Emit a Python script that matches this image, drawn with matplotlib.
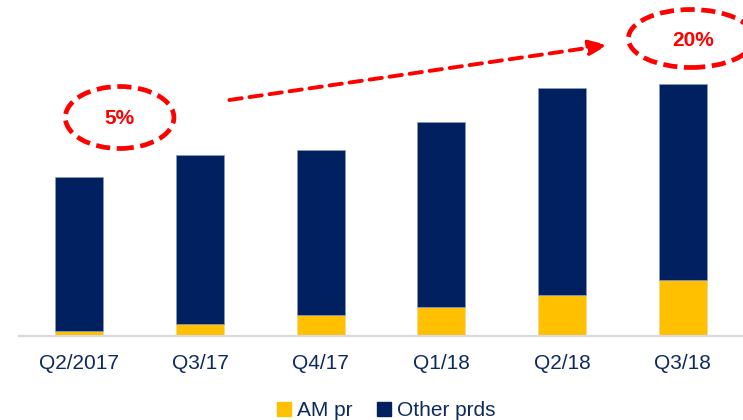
import matplotlib.pyplot as plt
from matplotlib.patches import Ellipse, Patch
import numpy as np

plt.rcParams['font.family'] = ['Liberation Sans', 'DejaVu Sans']

# Data
quarters = ['Q2/2017', 'Q3/17', 'Q4/17', 'Q1/18', 'Q2/18', 'Q3/18']
am_pr = np.array([5.3, 11.7, 21.0, 28.7, 40.7, 56.0])
other_prds = np.array([153.4, 169.0, 165.3, 185.3, 207.3, 196.3])
share_labels = ['5%', '20%']

navy = '#002060'
yellow = '#FFC000'
text_col = '#0d2a5e'
red = '#FF0000'

x = np.arange(len(quarters))

fig = plt.figure(figsize=(7.43, 4.20), dpi=100)
ax = fig.add_axes([19 / 743, 84 / 420, 1 - 19 / 743, 336 / 420])

ax.bar(x, am_pr, width=0.4, color=yellow, edgecolor='#e8d9a0', linewidth=0.4)
ax.bar(x, other_prds, width=0.4, bottom=am_pr, color=navy, edgecolor='#8a9cc0', linewidth=0.5)

ax.set_xlim(-0.5, 5.5)
ax.set_ylim(0, 336)
ax.set_yticks([])
ax.set_xticks(x)
ax.set_xticklabels(quarters, fontsize=15, color=text_col)
ax.tick_params(axis='x', length=0, pad=13)
for s in ['top', 'left', 'right']:
    ax.spines[s].set_visible(False)
ax.spines['bottom'].set_color('#d9d9de')
ax.spines['bottom'].set_linewidth(1.6)

# red dashed ellipses with share labels
e1 = Ellipse((0.334, 218.5), 0.90, 62, fill=False, edgecolor=red, lw=3.4,
             linestyle=(0, (3, 1.4)), clip_on=False)
e2 = Ellipse((5.07, 297.5), 1.04, 58, fill=False, edgecolor=red, lw=3.4,
             linestyle=(0, (3, 1.4)), clip_on=False)
ax.add_patch(e1)
ax.add_patch(e2)
ax.text(0.334, 217, share_labels[0], color=red, fontsize=15, fontweight='bold',
        ha='center', va='center')
ax.text(5.09, 296, share_labels[1], color=red, fontsize=15, fontweight='bold',
        ha='center', va='center')

ax.annotate('', xy=(4.38, 291), xytext=(1.244, 236),
            arrowprops=dict(arrowstyle='-|>,head_length=1.1,head_width=0.45',
                            color=red, lw=2.8, linestyle=(0, (3.2, 2.0)),
                            shrinkA=0, shrinkB=0))

handles = [Patch(color=yellow, label='AM pr'), Patch(color=navy, label='Other prds')]
leg = fig.legend(handles=handles, loc='lower center', bbox_to_anchor=(0.52, -0.045),
                 ncol=2, frameon=False, fontsize=15, handlelength=0.65,
                 handleheight=0.65, handletextpad=0.3, columnspacing=1.2)
for t in leg.get_texts():
    t.set_color(text_col)

fig.savefig('out.png', dpi=100)
